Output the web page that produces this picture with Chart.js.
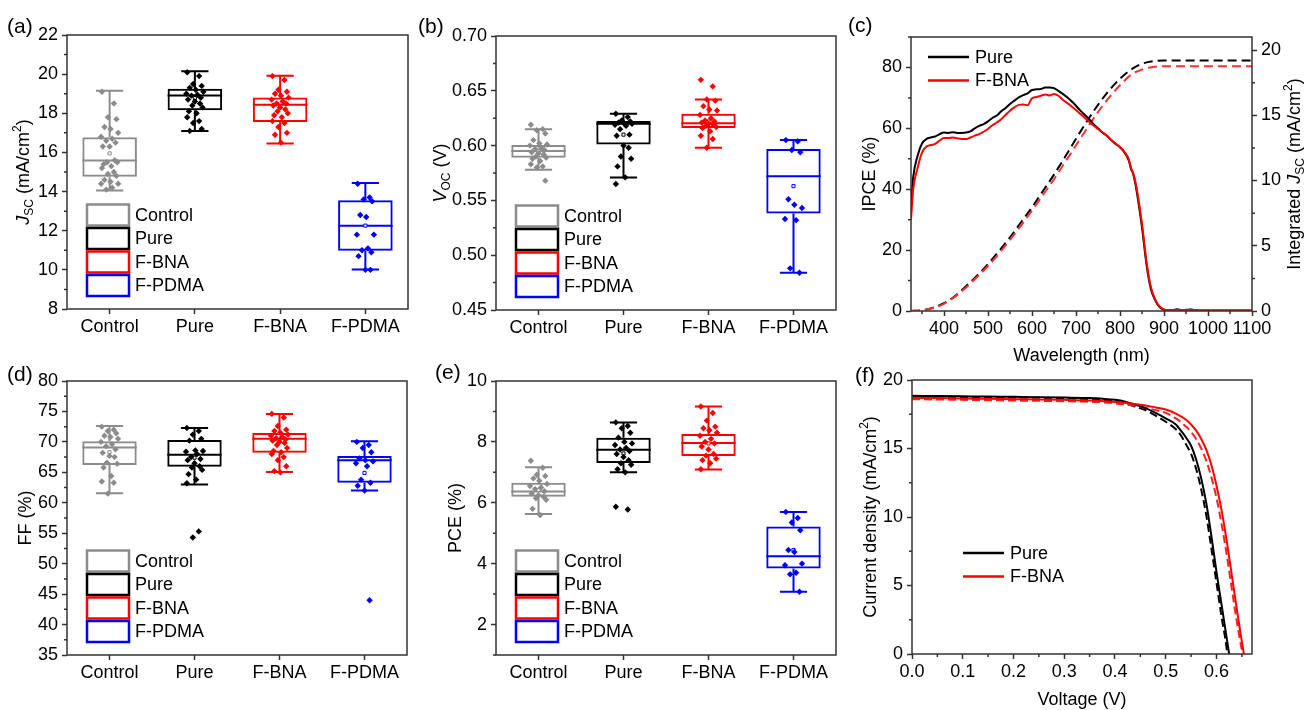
<!DOCTYPE html>
<html>
<head>
<meta charset="utf-8">
<script src="https://cdn.jsdelivr.net/npm/chart.js@4.4.1/dist/chart.umd.min.js"></script>
<style>
  html, body { margin: 0; padding: 0; background: #ffffff; width: 1306px; height: 710px; overflow: hidden; }
  canvas { position: absolute; }
</style>
</head>
<body>
<canvas id="pa" width="420" height="350" style="left:0px;top:0px;width:420px;height:350px"></canvas>
<canvas id="pb" width="440" height="350" style="left:410px;top:0px;width:440px;height:350px"></canvas>
<canvas id="pc" width="466" height="372" style="left:840px;top:0px;width:466px;height:372px"></canvas>
<canvas id="pd" width="420" height="360" style="left:0px;top:350px;width:420px;height:360px"></canvas>
<canvas id="pe" width="440" height="360" style="left:410px;top:350px;width:440px;height:360px"></canvas>
<canvas id="pf" width="466" height="360" style="left:840px;top:350px;width:466px;height:360px"></canvas>
<script>
// ---------------- DATA ----------------
const categories = ['Control', 'Pure', 'F-BNA', 'F-PDMA'];

// (a) Jsc (mA/cm2)
const jscTicks = [8, 10, 12, 14, 16, 18, 20, 22];
const jscMin = [14.05, 17.09, 16.46, 10.02];
const jscQ1 = [14.76, 18.16, 17.55, 10.98];
const jscMedian = [15.59, 18.91, 18.44, 12.26];
const jscQ3 = [16.77, 19.25, 18.81, 13.56];
const jscMax = [19.15, 20.15, 19.92, 14.44];
const jscMean = [15.95, 18.78, 18.3, 12.26];
const jscControl = [19.1, 18.5, 17.8, 17.7, 17.3, 17.2, 17.0, 16.8, 16.7, 16.6, 16.5, 16.3, 16.3, 15.6, 15.5, 15.5, 15.4, 15.3, 15.2, 15.0, 14.9, 14.8, 14.6, 14.5, 14.4, 14.4, 14.2, 14.1];
const jscPure = [20.1, 19.9, 19.5, 19.4, 19.3, 19.2, 19.1, 19.0, 18.95, 18.9, 18.8, 18.7, 18.6, 18.5, 18.4, 18.3, 18.1, 18.0, 17.8, 17.6, 17.5, 17.2, 17.1];
const jscFBNA = [19.9, 19.7, 19.2, 19.1, 19.0, 18.9, 18.8, 18.7, 18.6, 18.5, 18.5, 18.4, 18.3, 18.2, 18.1, 18.0, 17.9, 17.8, 17.6, 17.5, 17.3, 17.0, 16.9, 16.5];
const jscFPDMA = [14.4, 13.7, 13.6, 13.5, 12.8, 12.7, 11.8, 11.8, 11.1, 11.0, 10.9, 10.7, 10.0, 10.0];

// (b) Voc (V)
const vocTicks = [0.45, 0.50, 0.55, 0.60, 0.65, 0.70];
const vocMin = [0.578, 0.571, 0.598, 0.484];
const vocQ1 = [0.589, 0.601, 0.616, 0.538];
const vocMedian = [0.595, 0.620, 0.6205, 0.572];
const vocQ3 = [0.6005, 0.6225, 0.629, 0.597];
const vocMax = [0.615, 0.629, 0.642, 0.605];
const vocMean = [0.595, 0.610, 0.622, 0.563];
const vocControl = [0.619, 0.615, 0.614, 0.611, 0.605, 0.602, 0.601, 0.600, 0.598, 0.597, 0.596, 0.594, 0.593, 0.592, 0.590, 0.589, 0.588, 0.586, 0.583, 0.581, 0.580, 0.568];
const vocPure = [0.629, 0.626, 0.623, 0.622, 0.621, 0.620, 0.620, 0.619, 0.618, 0.615, 0.610, 0.609, 0.600, 0.598, 0.590, 0.588, 0.581, 0.571, 0.565];
const vocFBNA = [0.660, 0.654, 0.642, 0.641, 0.636, 0.633, 0.632, 0.628, 0.625, 0.623, 0.622, 0.621, 0.620, 0.619, 0.618, 0.617, 0.616, 0.613, 0.609, 0.606, 0.598];
const vocFPDMA = [0.605, 0.604, 0.596, 0.594, 0.551, 0.546, 0.543, 0.533, 0.532, 0.488, 0.484];

// (d) FF (%)
const ffTicks = [35, 40, 45, 50, 55, 60, 65, 70, 75, 80];
const ffMin = [61.55, 63.0, 65.05, 62.0];
const ffQ1 = [66.2, 65.9, 68.2, 63.3];
const ffMedian = [69.07, 67.9, 70.5, 67.0];
const ffQ3 = [70.1, 70.3, 71.45, 67.7];
const ffMax = [72.6, 72.3, 74.6, 70.1];
const ffMean = [68.3, 67.4, 70.1, 64.9];
const ffControl = [72.5, 72.0, 71.8, 71.4, 71.0, 70.8, 70.5, 70.0, 69.6, 69.3, 68.8, 68.2, 67.7, 67.5, 66.6, 66.4, 65.8, 64.4, 63.5, 63.3, 61.5];
const ffPure = [72.3, 71.8, 71.2, 70.5, 70.2, 68.6, 68.5, 68.4, 68.0, 67.5, 67.2, 67.0, 66.5, 66.0, 65.8, 65.4, 64.7, 63.8, 63.2, 55.3, 54.3];
const ffFBNA = [74.6, 74.0, 72.6, 72.0, 71.8, 71.5, 71.2, 71.0, 70.8, 70.6, 70.4, 70.2, 70.0, 69.8, 69.5, 69.0, 68.5, 68.3, 68.0, 67.5, 67.0, 66.0, 65.2, 65.0];
const ffFPDMA = [70.0, 69.5, 69.0, 68.3, 67.3, 67.0, 66.8, 66.5, 66.0, 63.8, 63.3, 62.8, 62.0, 44.0];

// (e) PCE (%)
const pceTicks = [2, 4, 6, 8, 10];
const pceMin = [5.63, 7.0, 7.09, 3.08];
const pceQ1 = [6.2, 7.31, 7.54, 3.84];
const pceMedian = [6.37, 7.74, 7.96, 4.24];
const pceQ3 = [6.66, 8.14, 8.26, 5.22];
const pceMax = [7.17, 8.64, 9.16, 5.7];
const pceMean = [6.42, 7.62, 7.95, 4.45];
const pceControl = [7.38, 7.15, 6.92, 6.88, 6.8, 6.72, 6.62, 6.55, 6.5, 6.45, 6.38, 6.3, 6.25, 6.2, 6.15, 6.1, 5.8, 5.6];
const pcePure = [8.64, 8.52, 8.45, 8.3, 8.14, 8.0, 7.95, 7.9, 7.8, 7.75, 7.7, 7.6, 7.5, 7.4, 7.3, 7.25, 7.1, 7.0, 5.87, 5.78];
const pceFBNA = [9.16, 8.95, 8.7, 8.5, 8.45, 8.38, 8.3, 8.2, 8.1, 8.0, 7.95, 7.85, 7.75, 7.6, 7.55, 7.45, 7.4, 7.3, 7.1];
const pceFPDMA = [5.7, 5.5, 5.35, 5.1, 4.45, 4.38, 4.0, 3.95, 3.7, 3.65, 3.08];

// (c) IPCE and integrated Jsc
const ipceXTicks = [400, 500, 600, 700, 800, 900, 1000, 1100];
const ipceYTicks = [0, 20, 40, 60, 80];
const intJscTicks = [0, 5, 10, 15, 20];
const ipceWl = [325, 330, 340, 350, 360, 370, 380, 390, 400, 410, 420, 430, 440, 450, 460, 470, 480, 490, 500, 510, 520, 530, 540, 550, 560, 570, 580, 590, 600, 610, 620, 630, 640, 650, 660, 670, 680, 690, 700, 710, 720, 730, 740, 750, 760, 770, 780, 790, 800, 810, 820, 825, 830, 835, 840, 850, 860, 870, 880, 890, 900, 910, 920, 930, 940, 950, 960, 970, 980, 1000, 1050, 1100];
const ipcePure = [35, 44, 51, 55, 56.5, 57, 57.3, 58.1, 58.6, 58.5, 58.7, 58.5, 58.5, 58.6, 59, 60, 60.8, 61.4, 62.3, 63.4, 64.2, 65.6, 66.7, 68, 69.1, 70.2, 70.9, 71.5, 72.6, 72.8, 72.9, 73.4, 73.4, 73.2, 72.3, 71.3, 70.2, 68.9, 67.4, 65.8, 64.4, 63, 61.4, 60, 58.6, 57.6, 56.2, 54.9, 53.8, 52.1, 49.4, 46.7, 45, 41.7, 37.4, 27.5, 15.5, 7.3, 3.5, 1.3, 0.4, 0.2, 0.3, 0.6, 0.3, 0.4, 0.5, 0.3, 0.2, 0.2, 0.2, 0.2];
const ipceFBNA = [30, 40, 47, 52, 54, 54.5, 54.9, 56, 56.8, 56.8, 57, 56.7, 56.5, 56.5, 57, 57.6, 58.1, 58.9, 59.8, 61, 61.9, 63, 64.4, 65.8, 66.9, 67.7, 67.8, 67.6, 69.9, 70.3, 70.7, 71.1, 70.8, 71.3, 70.7, 69.4, 68.3, 67.2, 66, 64.7, 63.4, 62.2, 60.9, 59.8, 58.7, 57.6, 56.2, 55.0, 53.9, 52.3, 49.8, 47, 45.3, 42.5, 38.5, 28.7, 16.5, 8, 3.8, 1.5, 0.5, 0.3, 0.3, 0.4, 0.3, 0.3, 0.4, 0.3, 0.2, 0.2, 0.2, 0.2];
const intWl = [325, 350, 375, 400, 425, 450, 475, 500, 525, 550, 575, 600, 625, 650, 675, 700, 725, 750, 775, 800, 825, 850, 875, 900, 950, 1000, 1050, 1100];
const intJscPure = [0, 0.05, 0.25, 0.6, 1.15, 1.9, 2.7, 3.6, 4.6, 5.65, 6.8, 7.95, 9.2, 10.45, 11.8, 13.2, 14.55, 15.8, 16.9, 17.8, 18.5, 18.95, 19.15, 19.2, 19.2, 19.2, 19.2, 19.2];
const intJscFBNA = [0, 0.05, 0.23, 0.55, 1.1, 1.8, 2.6, 3.45, 4.4, 5.45, 6.55, 7.7, 8.9, 10.1, 11.4, 12.7, 14.0, 15.25, 16.35, 17.3, 18.1, 18.5, 18.7, 18.75, 18.75, 18.75, 18.75, 18.75];

// (f) J-V curves
const jvXTicks = [0, 0.1, 0.2, 0.3, 0.4, 0.5, 0.6];
const jvYTicks = [0, 5, 10, 15, 20];
const purePV = [0, 0.05, 0.1, 0.15, 0.2, 0.25, 0.3, 0.35, 0.38, 0.4, 0.42, 0.44, 0.46, 0.48, 0.5, 0.52, 0.53, 0.54, 0.55, 0.56, 0.57, 0.58, 0.59, 0.6, 0.61, 0.62, 0.625];
const pureJ = [18.85, 18.83, 18.81, 18.79, 18.77, 18.75, 18.72, 18.68, 18.62, 18.55, 18.42, 18.2, 17.95, 17.6, 17.2, 16.75, 16.3, 15.8, 15.2, 14.2, 12.8, 11.0, 8.6, 6.0, 3.6, 1.2, 0];
const pureRevV = [0, 0.05, 0.1, 0.15, 0.2, 0.25, 0.3, 0.35, 0.38, 0.4, 0.42, 0.44, 0.46, 0.48, 0.5, 0.52, 0.53, 0.54, 0.55, 0.56, 0.57, 0.58, 0.59, 0.6, 0.61, 0.62, 0.621];
const pureRevJ = [18.8, 18.78, 18.76, 18.74, 18.72, 18.7, 18.66, 18.6, 18.53, 18.45, 18.3, 18.05, 17.8, 17.4, 16.95, 16.4, 15.95, 15.3, 14.6, 13.5, 12.0, 10.1, 7.7, 5.2, 2.7, 0.4, 0];
const fbnaV = [0, 0.05, 0.1, 0.15, 0.2, 0.25, 0.3, 0.35, 0.4, 0.45, 0.48, 0.5, 0.52, 0.54, 0.55, 0.56, 0.57, 0.58, 0.59, 0.6, 0.61, 0.62, 0.63, 0.64, 0.65, 0.654];
const fbnaJ = [18.7, 18.68, 18.65, 18.63, 18.6, 18.58, 18.55, 18.5, 18.4, 18.2, 18.0, 17.85, 17.55, 17.1, 16.75, 16.3, 15.7, 14.9, 13.8, 12.3, 10.5, 8.3, 5.8, 3.3, 0.9, 0];
const fbnaRevV = [0, 0.05, 0.1, 0.15, 0.2, 0.25, 0.3, 0.35, 0.4, 0.45, 0.48, 0.5, 0.52, 0.54, 0.55, 0.56, 0.57, 0.58, 0.59, 0.6, 0.61, 0.62, 0.63, 0.64, 0.65, 0.652];
const fbnaRevJ = [18.6, 18.58, 18.55, 18.53, 18.5, 18.48, 18.45, 18.4, 18.3, 18.05, 17.8, 17.6, 17.2, 16.6, 16.2, 15.7, 15.0, 14.1, 12.9, 11.4, 9.5, 7.3, 4.8, 2.4, 0.3, 0];

// ---------------- STYLE / HELPERS ----------------
const FONT = "'Liberation Sans', Arial, Helvetica, sans-serif";
Chart.defaults.font.family = FONT;
Chart.defaults.font.size = 18;
Chart.defaults.color = '#000';
const AXIS = '#333333';
const groupColors = ['#8c8c8c', '#000000', '#ff0000', '#0000ff'];
const JIT = [-0.09, 0.05, -0.02, 0.08, -0.06, 0.01, 0.1, -0.1, 0.03, -0.04, 0.07, -0.08, 0.0, 0.06, -0.03, 0.09, -0.07, 0.02];

function linScale(o) {
  return {
    type: 'linear', position: o.position, min: o.min, max: o.max, offset: false,
    grid: { display: true, drawOnChartArea: false, drawTicks: true, tickLength: 5, tickWidth: 1.5, tickColor: AXIS, offset: false },
    border: { display: false },
    ticks: { padding: o.padding, autoSkip: false, maxRotation: 0, minRotation: 0, color: '#000', font: { size: 18, family: FONT }, callback: o.fmt },
    afterBuildTicks: (s) => { s.ticks = o.ticks.map(v => ({ value: v })); },
    afterFit: (s) => { if (o.w != null) s.width = o.w; if (o.h != null) s.height = o.h; }
  };
}

function drawRich(ctx, segs, x, y, rot, size) {
  ctx.save();
  ctx.translate(x, y);
  if (rot) ctx.rotate(rot);
  const parts = segs.map(s => {
    const fs = (s.sub || s.sup) ? Math.round(size * 0.68) : size;
    const font = (s.it ? 'italic ' : '') + fs + 'px ' + FONT;
    ctx.font = font;
    return { s, font, w: ctx.measureText(s.t).width };
  });
  const total = parts.reduce((a, p) => a + p.w, 0);
  let cx = -total / 2;
  ctx.textBaseline = 'middle';
  ctx.textAlign = 'left';
  ctx.fillStyle = '#000';
  for (const p of parts) {
    ctx.font = p.font;
    const dy = p.s.sub ? size * 0.3 : (p.s.sup ? -size * 0.35 : 0);
    ctx.fillText(p.s.t, cx, dy);
    cx += p.w;
  }
  ctx.restore();
}

function drawMinor(ctx, scale, step, side) {
  const n0 = Math.ceil(scale.min / step - 1e-6), n1 = Math.floor(scale.max / step + 1e-6);
  const majors = scale.ticks.map(t => t.value);
  ctx.beginPath();
  for (let n = n0; n <= n1; n++) {
    const v = n * step;
    if (majors.some(m => Math.abs(m - v) < step * 1e-3)) continue;
    const p = scale.getPixelForValue(v);
    if (side === 'left') { ctx.moveTo(scale.right, p); ctx.lineTo(scale.right - 3, p); }
    else if (side === 'right') { ctx.moveTo(scale.left, p); ctx.lineTo(scale.left + 3, p); }
    else { ctx.moveTo(p, scale.top); ctx.lineTo(p, scale.top + 3); }
  }
  ctx.stroke();
}

function decoPlugin(P) {
  return {
    id: 'deco',
    beforeDatasetsDraw(chart) {
      if (!P.box) return;
      const ctx = chart.ctx, xs = chart.scales.x, ys = chart.scales.y;
      const bars = chart.getDatasetMeta(0).data;
      ctx.save();
      ctx.lineWidth = 2;
      for (let i = 0; i < categories.length; i++) {
        const cx = xs.getPixelForValue(i);
        const hw = bars[i].width / 2, cap = hw * 0.5;
        const yMin = ys.getPixelForValue(P.box.min[i]);
        const yQ1 = ys.getPixelForValue(P.box.q1[i]);
        const yMed = ys.getPixelForValue(P.box.med[i]);
        const yQ3 = ys.getPixelForValue(P.box.q3[i]);
        const yMax = ys.getPixelForValue(P.box.max[i]);
        ctx.strokeStyle = groupColors[i];
        ctx.beginPath();
        ctx.moveTo(cx, yMax); ctx.lineTo(cx, yQ3);
        ctx.moveTo(cx, yQ1); ctx.lineTo(cx, yMin);
        ctx.moveTo(cx - cap, yMax); ctx.lineTo(cx + cap, yMax);
        ctx.moveTo(cx - cap, yMin); ctx.lineTo(cx + cap, yMin);
        ctx.moveTo(cx - hw, yMed); ctx.lineTo(cx + hw, yMed);
        ctx.stroke();
      }
      ctx.restore();
    },
    afterDraw(chart) {
      const ctx = chart.ctx, a = chart.chartArea;
      ctx.save();
      // frame
      ctx.strokeStyle = AXIS;
      ctx.lineWidth = 1.5;
      ctx.strokeRect(a.left, a.top, a.right - a.left, a.bottom - a.top);
      // minor ticks
      for (const m of P.minor) drawMinor(ctx, chart.scales[m.id], m.step, m.side);
      // titles
      for (const t of P.titles) {
        const x = t.x != null ? t.x : (a.left + a.right) / 2;
        const y = t.y != null ? t.y : (a.top + a.bottom) / 2;
        drawRich(ctx, t.segs, x, y, t.rot ? -Math.PI / 2 : 0, 18);
      }
      // panel letter
      ctx.font = '21px ' + FONT;
      ctx.fillStyle = '#000';
      ctx.textAlign = 'left';
      ctx.textBaseline = 'middle';
      ctx.fillText(P.letter.t, P.letter.x, P.letter.y);
      // legends
      ctx.font = '18px ' + FONT;
      if (P.boxLegend) {
        const x = a.left + 20, step = 23.5, bh = 21, bw = 42;
        const top0 = a.bottom - 13 - bh - 3 * step;
        categories.forEach((c, i) => {
          const ty = top0 + i * step;
          ctx.strokeStyle = groupColors[i];
          ctx.lineWidth = 2.5;
          ctx.strokeRect(x, ty, bw, bh);
          ctx.fillStyle = '#000';
          ctx.fillText(c, x + bw + 6, ty + bh / 2 + 1);
        });
      }
      if (P.lineLegend) {
        const L = P.lineLegend;
        L.items.forEach((it, i) => {
          const y = a.top + L.dy + i * 23.5;
          ctx.strokeStyle = it.color;
          ctx.lineWidth = 2.5;
          ctx.beginPath();
          ctx.moveTo(a.left + L.dx, y); ctx.lineTo(a.left + L.dx + 41, y);
          ctx.stroke();
          ctx.fillStyle = '#000';
          ctx.fillText(it.label, a.left + L.dx + 47, y + 1);
        });
      }
      ctx.restore();
    }
  };
}

function boxChart(id, W, H, area, cfg) {
  const ds = [];
  ds.push({
    type: 'bar',
    data: categories.map((c, i) => ({ x: i, y: [cfg.q1[i], cfg.q3[i]] })),
    backgroundColor: 'rgba(0,0,0,0)', borderColor: groupColors, borderWidth: 2, borderSkipped: false,
    barPercentage: 0.64, categoryPercentage: 1, grouped: false, order: 3
  });
  ds.push({
    type: 'scatter',
    data: categories.map((c, i) => ({ x: i, y: cfg.mean[i] })),
    pointStyle: 'rect', pointRadius: 2.2, backgroundColor: '#ffffff', borderColor: groupColors, borderWidth: 1, order: 2
  });
  cfg.points.forEach((arr, g) => {
    ds.push({
      type: 'scatter',
      data: arr.map((v, k) => ({ x: g + JIT[k % JIT.length], y: v })),
      pointStyle: 'rectRot', pointRadius: 3.2, backgroundColor: groupColors[g], borderWidth: 0, order: 1
    });
  });
  new Chart(document.getElementById(id), {
    type: 'bar',
    data: { datasets: ds },
    options: {
      responsive: false, animation: false, devicePixelRatio: 1,
      layout: { padding: { left: 0, top: area.t, right: W - area.r, bottom: 0 }, autoPadding: false },
      plugins: { legend: { display: false }, tooltip: { enabled: false } },
      scales: {
        x: linScale({ position: 'bottom', min: -0.5, max: 3.5, ticks: [0, 1, 2, 3], fmt: v => categories[v], padding: 2, h: H - area.b }),
        y: linScale({ position: 'left', min: cfg.min, max: cfg.max, ticks: cfg.ticks, fmt: cfg.fmt, padding: 4, w: area.l })
      }
    },
    plugins: [decoPlugin({
      box: { min: cfg.wMin, q1: cfg.q1, med: cfg.med, q3: cfg.q3, max: cfg.wMax },
      minor: [{ id: 'y', step: cfg.minor, side: 'left' }],
      titles: [{ segs: cfg.title, x: cfg.titleX, rot: true }],
      letter: cfg.letter,
      boxLegend: true
    })]
  });
}

// (a)
boxChart('pa', 420, 350, { l: 67, t: 35, r: 408, b: 309 }, {
  min: 8, max: 22, ticks: jscTicks, minor: 1, fmt: v => String(v),
  wMin: jscMin, q1: jscQ1, med: jscMedian, q3: jscQ3, wMax: jscMax, mean: jscMean,
  points: [jscControl, jscPure, jscFBNA, jscFPDMA],
  title: [{ t: 'J', it: true }, { t: 'SC', sub: true }, { t: ' (mA/cm' }, { t: '2', sup: true }, { t: ')' }],
  titleX: 24, letter: { t: '(a)', x: 7, y: 27 }
});
// (b)
boxChart('pb', 440, 350, { l: 86, t: 36, r: 426, b: 310 }, {
  min: 0.45, max: 0.70, ticks: vocTicks, minor: 0.025, fmt: v => v.toFixed(2),
  wMin: vocMin, q1: vocQ1, med: vocMedian, q3: vocQ3, wMax: vocMax, mean: vocMean,
  points: [vocControl, vocPure, vocFBNA, vocFPDMA],
  title: [{ t: 'V', it: true }, { t: 'OC', sub: true }, { t: ' (V)' }],
  titleX: 31, letter: { t: '(b)', x: 8, y: 27 }
});
// (d)
boxChart('pd', 420, 360, { l: 67, t: 31, r: 407, b: 305 }, {
  min: 35, max: 80, ticks: ffTicks, minor: 2.5, fmt: v => String(v),
  wMin: ffMin, q1: ffQ1, med: ffMedian, q3: ffQ3, wMax: ffMax, mean: ffMean,
  points: [ffControl, ffPure, ffFBNA, ffFPDMA],
  title: [{ t: 'FF (%)' }],
  titleX: 26, letter: { t: '(d)', x: 7, y: 25 }
});
// (e)
boxChart('pe', 440, 360, { l: 86, t: 31, r: 426, b: 305 }, {
  min: 1, max: 10, ticks: pceTicks, minor: 1, fmt: v => String(v),
  wMin: pceMin, q1: pceQ1, med: pceMedian, q3: pceQ3, wMax: pceMax, mean: pceMean,
  points: [pceControl, pcePure, pceFBNA, pceFPDMA],
  title: [{ t: 'PCE (%)' }],
  titleX: 46, letter: { t: '(e)', x: 25, y: 23 }
});

// (c) IPCE
(function () {
  const W = 466, H = 372, area = { l: 71, t: 37, r: 412, b: 311 };
  const line = (xs, ys, color, axis, dash, order) => ({
    type: 'line', data: xs.map((x, i) => ({ x, y: ys[i] })), borderColor: color, borderWidth: 2,
    borderDash: dash, pointRadius: 0, fill: false, yAxisID: axis, cubicInterpolationMode: 'monotone', order
  });
  new Chart(document.getElementById('pc'), {
    type: 'line',
    data: {
      datasets: [
        line(ipceWl, ipcePure, '#000000', 'y', [], 2),
        line(ipceWl, ipceFBNA, '#ff0000', 'y', [], 1),
        line(intWl, intJscPure, '#000000', 'y2', [9, 5], 4),
        line(intWl, intJscFBNA, '#ff3030', 'y2', [9, 5], 3)
      ]
    },
    options: {
      responsive: false, animation: false, devicePixelRatio: 1,
      layout: { padding: { left: 0, top: area.t, right: 0, bottom: 0 }, autoPadding: false },
      plugins: { legend: { display: false }, tooltip: { enabled: false } },
      scales: {
        x: linScale({ position: 'bottom', min: 325, max: 1100, ticks: ipceXTicks, fmt: v => String(v), padding: 2, h: H - area.b }),
        y: linScale({ position: 'left', min: 0, max: 90, ticks: ipceYTicks, fmt: v => String(v), padding: 4, w: area.l }),
        y2: linScale({ position: 'right', min: 0, max: 21, ticks: intJscTicks, fmt: v => String(v), padding: 4, w: W - area.r })
      }
    },
    plugins: [decoPlugin({
      minor: [{ id: 'x', step: 50, side: 'bottom' }, { id: 'y', step: 10, side: 'left' }, { id: 'y2', step: 2.5, side: 'right' }],
      titles: [
        { segs: [{ t: 'IPCE (%)' }], x: 30, rot: true },
        { segs: [{ t: 'Integrated ' }, { t: 'J', it: true }, { t: 'SC', sub: true }, { t: ' (mA/cm' }, { t: '2', sup: true }, { t: ')' }], x: 455, rot: true },
        { segs: [{ t: 'Wavelength (nm)' }], y: 356 }
      ],
      letter: { t: '(c)', x: 8, y: 26 },
      lineLegend: { dx: 17, dy: 20, items: [{ label: 'Pure', color: '#000000' }, { label: 'F-BNA', color: '#ff0000' }] }
    })]
  });
})();

// (f) J-V
(function () {
  const W = 466, H = 360, area = { l: 72, t: 30, r: 412, b: 304 };
  const line = (xs, ys, color, dash, order) => ({
    type: 'line', data: xs.map((x, i) => ({ x, y: ys[i] })), borderColor: color, borderWidth: 2,
    borderDash: dash, pointRadius: 0, fill: false, cubicInterpolationMode: 'monotone', order
  });
  new Chart(document.getElementById('pf'), {
    type: 'line',
    data: {
      datasets: [
        line(purePV, pureJ, '#000000', [], 2),
        line(pureRevV, pureRevJ, '#000000', [8, 4], 4),
        line(fbnaV, fbnaJ, '#ff0000', [], 1),
        line(fbnaRevV, fbnaRevJ, '#ff2020', [8, 4], 3)
      ]
    },
    options: {
      responsive: false, animation: false, devicePixelRatio: 1,
      layout: { padding: { left: 0, top: area.t, right: W - area.r, bottom: 0 }, autoPadding: false },
      plugins: { legend: { display: false }, tooltip: { enabled: false } },
      scales: {
        x: linScale({ position: 'bottom', min: 0, max: 0.67, ticks: jvXTicks, fmt: v => v.toFixed(1), padding: 2, h: H - area.b }),
        y: linScale({ position: 'left', min: 0, max: 20, ticks: jvYTicks, fmt: v => String(v), padding: 4, w: area.l })
      }
    },
    plugins: [decoPlugin({
      minor: [{ id: 'x', step: 0.05, side: 'bottom' }, { id: 'y', step: 2.5, side: 'left' }],
      titles: [
        { segs: [{ t: 'Current density (mA/cm' }, { t: '2', sup: true }, { t: ')' }], x: 31, rot: true },
        { segs: [{ t: 'Voltage (V)' }], y: 350 }
      ],
      letter: { t: '(f)', x: 15, y: 26 },
      lineLegend: { dx: 51, dy: 173, items: [{ label: 'Pure', color: '#000000' }, { label: 'F-BNA', color: '#ff0000' }] }
    })]
  });
})();
</script>
</body>
</html>
